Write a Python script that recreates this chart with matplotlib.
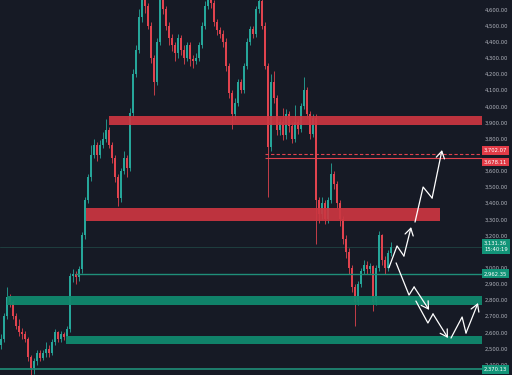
import matplotlib

matplotlib.use("Agg")
import matplotlib.pyplot as plt
import matplotlib.transforms as mtransforms
import numpy as np

BG = "#161a25"
UP = "#26a69a"
DOWN = "#e0434e"
ZONE_RED = "#cc3641"
ZONE_GREEN = "#10896d"
LINE_GREEN = "#1f8f79"
TXT = "#b2b5be"

# candle data (price in USD), one entry per bar
first_open = 2520
closes = [2560, 2700, 2820, 2790, 2700, 2640, 2600, 2590, 2560, 2450,
          2380, 2420, 2470, 2440, 2470, 2500, 2470, 2540, 2600, 2560,
          2590, 2570, 2620, 2950, 2960, 2940, 2990, 3200, 3420, 3560,
          3700, 3760, 3700, 3760, 3800, 3850, 3760, 3680, 3560, 3430,
          3600, 3680, 3620, 3960, 4200, 4350, 4550, 4700, 4620, 4500,
          4300, 4150, 4400, 4690, 4600, 4500, 4420, 4380, 4330, 4420,
          4350, 4300, 4380, 4290, 4280, 4300, 4380, 4500, 4620, 4680,
          4640, 4520, 4470, 4450, 4400, 4250, 4080, 3950, 4020, 4150,
          4100, 4250, 4400, 4480, 4450, 4600, 4650, 4500, 4250, 3750,
          4150, 4050, 3850, 3900, 3820, 3950, 3880, 3800, 3900, 3860,
          4000, 4100, 3950, 3830, 3930, 3420, 3330, 3400, 3300, 3420,
          3580, 3520, 3400, 3300, 3180, 3100, 3000, 2880, 2790, 2900,
          2980, 3020, 2990, 3010, 2790, 3000, 3200, 3050, 3000, 3090,
          3131]
highs = [2590, 2720, 2880, 2840, 2800, 2720, 2680, 2630, 2610, 2570,
         2460, 2440, 2490, 2490, 2490, 2540, 2520, 2560, 2620, 2610,
         2610, 2600, 2640, 2970, 2990, 2980, 3010, 3220, 3440, 3580,
         3760, 3800, 3780, 3790, 3840, 3920, 3870, 3780, 3700, 3580,
         3620, 3720, 3700, 3990, 4230, 4380, 4600, 4750, 4720, 4640,
         4520, 4320, 4420, 4740, 4710, 4620, 4520, 4450, 4400, 4450,
         4440, 4380, 4400, 4400, 4320, 4330, 4400, 4520, 4650, 4720,
         4700, 4660, 4540, 4490, 4470, 4420, 4270, 4100, 4050, 4170,
         4170, 4270, 4420, 4500, 4500, 4620, 4700, 4670, 4520, 4270,
         4200, 4220, 4070, 3930, 3990, 3980, 3970, 3900, 4010, 3920,
         4020, 4180, 4120, 3970, 3950, 3950, 3440, 3440, 3420, 3440,
         3650, 3600, 3540, 3420, 3320, 3200, 3120, 3020, 2900, 2920,
         3000, 3050, 3040, 3030, 3020, 3020, 3230, 3210, 3070, 3110,
         3160]
lows = [2500, 2540, 2680, 2760, 2680, 2620, 2580, 2560, 2540, 2420,
        2320, 2340, 2400, 2420, 2430, 2450, 2450, 2460, 2520, 2540,
        2540, 2550, 2560, 2600, 2910, 2900, 2920, 2970, 3180, 3400,
        3540, 3680, 3660, 3680, 3740, 3780, 3740, 3650, 3530, 3380,
        3410, 3580, 3560, 3600, 3940, 4180, 4330, 4520, 4580, 4480,
        4270, 4070, 4130, 4380, 4570, 4470, 4380, 4340, 4280, 4300,
        4320, 4260, 4280, 4250, 4240, 4260, 4280, 4360, 4480, 4600,
        4610, 4500, 4440, 4420, 4370, 4220, 4050, 3860, 3920, 4000,
        4080, 4080, 4230, 4380, 4420, 4430, 4580, 4480, 4230, 3440,
        3720, 4020, 3820, 3820, 3790, 3800, 3840, 3770, 3780, 3830,
        3840, 3980, 3930, 3800, 3810, 3150, 3280, 3300, 3270, 3280,
        3400, 3490, 3370, 3260, 3150, 3060, 2960, 2850, 2640, 2770,
        2880, 2960, 2960, 2970, 2730, 2770, 2980, 3020, 2960, 2980,
        3070]

# supply / demand zones: (start bar, end bar, low, high)
red_zones = [(36.0, None, 3885, 3940), (28.3, 146.3, 3290, 3370)]
green_zones = [(2.0, None, 2772, 2825), (21.7, None, 2527, 2578)]

# projected paths (bar, price)
path_up_1 = [(129.3, 3000), (132.0, 3135), (134.3, 3073), (136.7, 3252)]
path_up_2 = [(138.0, 3283), (140.7, 3500), (143.7, 3432), (147.0, 3729)]
path_dn_1 = [(131.7, 3030), (136.0, 2831), (137.7, 2881), (142.7, 2739)]
path_dn_2 = [(138.3, 2794), (142.3, 2658), (144.0, 2714), (149.0, 2565)]
path_dn_3 = [(150.0, 2565), (153.7, 2695), (155.0, 2596), (159.0, 2782)]

tick_prices = [2400, 2500, 2600, 2700, 2800, 2900, 3000, 3200, 3300,
               3400, 3500, 3600, 3800, 3900, 4000, 4100, 4200, 4300,
               4400, 4500, 4600]

fig = plt.figure(figsize=(5.12, 3.75), dpi=100)
fig.patch.set_facecolor(BG)
ax = fig.add_axes([0, 0, 482 / 512, 1])
ax.set_facecolor(BG)
X0, X1 = -0.33, 160.33
ax.set_xlim(X0, X1)
ax.set_ylim(2336, 4658)
for s in ax.spines.values():
    s.set_visible(False)

closes_a = np.array(closes, float)
opens_a = np.concatenate([[first_open], closes_a[:-1]])
xs = np.arange(len(closes_a))
cols = [UP if c >= o else DOWN for o, c in zip(opens_a, closes_a)]
ax.vlines(xs, lows, highs, colors=cols, lw=0.6, zorder=2)
ax.bar(xs, np.maximum(np.abs(closes_a - opens_a), 6), bottom=np.minimum(opens_a, closes_a),
       width=0.72, color=cols, lw=0, zorder=2)

# current price line
ax.axhline(3131.36, color="#2a6e63", lw=0.5, alpha=0.6, zorder=1)

for x0, x1, lo, hi in red_zones:
    ax.fill_between([x0, X1 if x1 is None else x1], lo, hi, color=ZONE_RED, alpha=0.92, lw=0, zorder=3)
for x0, x1, lo, hi in green_zones:
    ax.fill_between([x0, X1 if x1 is None else x1], lo, hi, color=ZONE_GREEN, alpha=0.95, lw=0, zorder=3)

ax.hlines(3702.07, 88, X1, colors=DOWN, lw=0.8, linestyles=(0, (3, 2)), zorder=3)
ax.hlines(3678.11, 88, X1, colors=DOWN, lw=0.8, zorder=3)
ax.hlines(2962.35, 24.7, X1, colors=LINE_GREEN, lw=1.0, zorder=3)
ax.hlines(2370.13, X0, X1, colors=LINE_GREEN, lw=1.2, zorder=3)

for path in (path_up_1, path_up_2, path_dn_1, path_dn_2, path_dn_3):
    px, py = zip(*path)
    ax.plot(px[:-1], py[:-1], color="white", lw=0.9, zorder=5, solid_capstyle="round")
    ax.annotate("", xy=path[-1], xytext=path[-2],
                arrowprops=dict(arrowstyle="->,head_length=0.5,head_width=0.3",
                                color="white", lw=0.9, shrinkA=0, shrinkB=0), zorder=5)

ax.set_xticks([])
ax.yaxis.tick_right()
ax.set_yticks(tick_prices)
ax.set_yticklabels([f"{p:,.2f}" for p in tick_prices])
ax.tick_params(axis="y", length=0, pad=2, labelsize=3.8, labelcolor=TXT)

# price tags on the scale (label position nudged apart where they would overlap)
trans = mtransforms.blended_transform_factory(ax.transAxes, ax.transData)
boxes = [(3727, "3,702.07", "#e23b47"), (3655, "3,678.11", "#e23b47"),
         (3131.36, "3,131.36\n15:40:19", "#129478"), (2962.35, "2,962.35", "#129478"),
         (2370.13, "2,370.13", "#129478")]
for y, label, c in boxes:
    ax.text(1.004, y, label, transform=trans, ha="left", va="center", fontsize=3.8,
            color="white", linespacing=1.3, clip_on=False, zorder=6,
            bbox=dict(boxstyle="square,pad=0.35", fc=c, ec="none"))

fig.savefig("out.png", dpi=100, facecolor=BG)
